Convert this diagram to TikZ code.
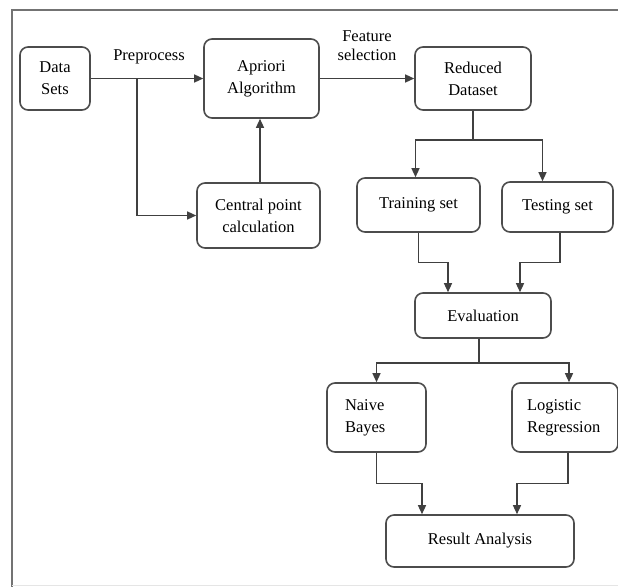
\documentclass[tikz,border=0pt]{standalone}
\usepackage{fontspec}
\setmainfont{Liberation Serif}
\usetikzlibrary{arrows.meta}
\begin{document}
\begin{tikzpicture}[x=1pt,y=-1pt,
 box/.style={draw=black!70, line width=1.6pt, rounded corners=8pt, align=center, inner sep=0pt, font=\fontsize{16.5}{22}\selectfont},
 conn/.style={draw=black!75, line width=1.3pt},
 arr/.style={conn, -{Triangle[length=9pt,width=8pt]}},
 lbl/.style={font=\fontsize{16.5}{19}\selectfont, align=center, inner sep=0pt}]
\useasboundingbox (0,0) rectangle (618,587);
\draw[black!55, line width=2.5pt] (618,10) -- (12,10) -- (12,587);
\draw[black!10, line width=1pt] (12,585.5) -- (618,585.5);

\node[box, minimum width=70, minimum height=63] (data) at (55,78.5) {Data\\Sets};
\node[box, minimum width=115, minimum height=79] (apriori) at (261.5,78.5) {Apriori\\Algorithm};
\node[box, minimum width=123, minimum height=65] (central) at (258.5,215.5) {Central point\\calculation};
\node[box, minimum width=116, minimum height=63] (reduced) at (473,78.5) {Reduced\\Dataset};
\node[box, minimum width=123, minimum height=54] (training) at (418.5,205) {Training set};
\node[box, minimum width=111, minimum height=50] (testing) at (557.5,207) {Testing set};
\node[box, minimum width=136, minimum height=45] (evaluation) at (483,315.5) {Evaluation};
\node[box, minimum width=99, minimum height=69, text width=63, align=left] (naive) at (376.5,417.5) {Naive\\Bayes};
\node[box, minimum width=106, minimum height=69, text width=76, align=left] (logistic) at (565,417.5) {Logistic\\Regression};
\node[box, minimum width=188, minimum height=52] (result) at (480,541) {Result Analysis};

\node[lbl] (pre) at (149,57) {Preprocess};
\node[lbl] (feat) at (367,46) {Feature\\selection};

\coordinate (b1) at (137,78.5);
\draw[arr] (data.east) -- (apriori.west);
\draw[arr] (b1) |- (central.west);
\draw[arr] ([xshift=1.5]central.north) -- ([xshift=-1.5]apriori.south);
\draw[arr] (apriori.east) -- (reduced.west);

\coordinate (s1) at (473,140);
\draw[conn] (reduced.south) -- (s1);
\draw[arr] (s1) -| ([xshift=-3]training.north);
\draw[arr] (s1) -| ([xshift=-15]testing.north);

\draw[arr] (training.south) -- ++(0,30) -| ([xshift=-35]evaluation.north);
\draw[arr] ([xshift=2.5]testing.south) -- ++(0,30) -| ([xshift=37]evaluation.north);

\coordinate (e1) at (479,363);
\draw[conn] ([xshift=-4]evaluation.south) -- (e1);
\draw[arr] (e1) -| (naive.north);
\draw[arr] (e1) -| ([xshift=4]logistic.north);

\draw[arr] (naive.south) -- ++(0,31) -| ([xshift=-58]result.north);
\draw[arr] ([xshift=3]logistic.south) -- ++(0,31) -| ([xshift=37]result.north);
\end{tikzpicture}
\end{document}
